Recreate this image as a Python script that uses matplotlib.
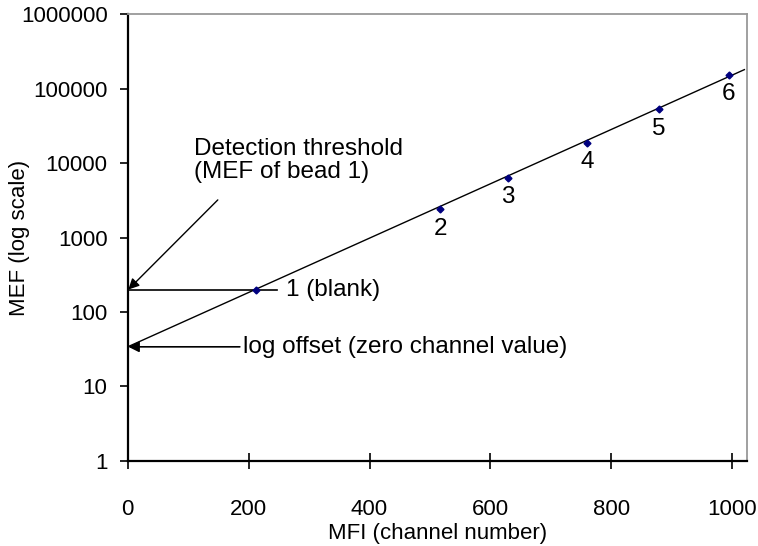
import matplotlib
matplotlib.use("Agg")
import matplotlib.pyplot as plt

plt.rcParams['font.family'] = ['Liberation Sans', 'DejaVu Sans']

# bead data (channel number vs MEF)
bead_labels = ["1 (blank)", "2", "3", "4", "5", "6"]
bead_mfi = [212, 517, 629, 760, 879, 994]
bead_mef = [195, 2400, 6300, 18700, 53000, 153000]

# fitted calibration line end points
fit_mfi = [0, 1020]
fit_mef = [34, 180000]

threshold_mef = 200
threshold_end = 247
offset_mef = 34

x_ticks = [0, 200, 400, 600, 800, 1000]
y_ticks = [1, 10, 100, 1000, 10000, 100000, 1000000]

fig = plt.figure(figsize=(7.58, 5.46), dpi=100)
ax = fig.add_axes([0.1685, 0.156, 0.8175, 0.818])

ax.plot(fit_mfi, fit_mef, color="black", lw=1)
ax.plot(bead_mfi, bead_mef, linestyle="none", marker="D", ms=3.5,
        color="#00007f", zorder=3)

# threshold line
ax.plot([0, threshold_end], [threshold_mef, threshold_mef], color="black", lw=1.2)

for lab, x, y in zip(bead_labels[1:], bead_mfi[1:], bead_mef[1:]):
    ax.annotate(lab, (x, y), xytext=(0, -14), textcoords="offset points",
                ha="center", va="center", fontsize=17.5)
ax.text(262, 195, bead_labels[0], ha="left", va="center", fontsize=17.5)

ax.annotate("", xy=(1, threshold_mef), xytext=(149, 3200),
            arrowprops=dict(arrowstyle="-|>", color="black", lw=1,
                            mutation_scale=16, shrinkA=0, shrinkB=0))
ax.text(109, 21400, "Detection threshold\n(MEF of bead 1)", ha="left", va="top",
        fontsize=17.5, linespacing=1.05)

ax.annotate("log offset (zero channel value)", xy=(1, offset_mef),
            xytext=(190, offset_mef), ha="left", va="center", fontsize=17.5,
            arrowprops=dict(arrowstyle="-|>", color="black", lw=1.2,
                            mutation_scale=16, shrinkA=0, shrinkB=0))

ax.set_yscale("log")
ax.set_xlim(0, 1025)
ax.set_ylim(1, 1000000)
ax.set_xticks(x_ticks)
ax.set_xticklabels([str(v) for v in x_ticks])
ax.set_yticks(y_ticks)
ax.set_yticklabels([str(v) for v in y_ticks])
ax.minorticks_off()

ax.tick_params(axis="y", direction="out", length=6, width=1.2, pad=8.5, labelsize=16)
ax.tick_params(axis="x", direction="inout", length=11, width=1.2, pad=22, labelsize=16)

for s in ["left", "bottom"]:
    ax.spines[s].set_linewidth(1.6)
    ax.spines[s].set_color("black")
for s in ["top", "right"]:
    ax.spines[s].set_linewidth(1.3)
    ax.spines[s].set_color("#999999")

ax.set_xlabel("MFI (channel number)", fontsize=16, labelpad=2)
ax.set_ylabel("MEF (log scale)", fontsize=16)
ax.yaxis.set_label_coords(-0.158, 0.5)

fig.savefig("out.png", dpi=100)
